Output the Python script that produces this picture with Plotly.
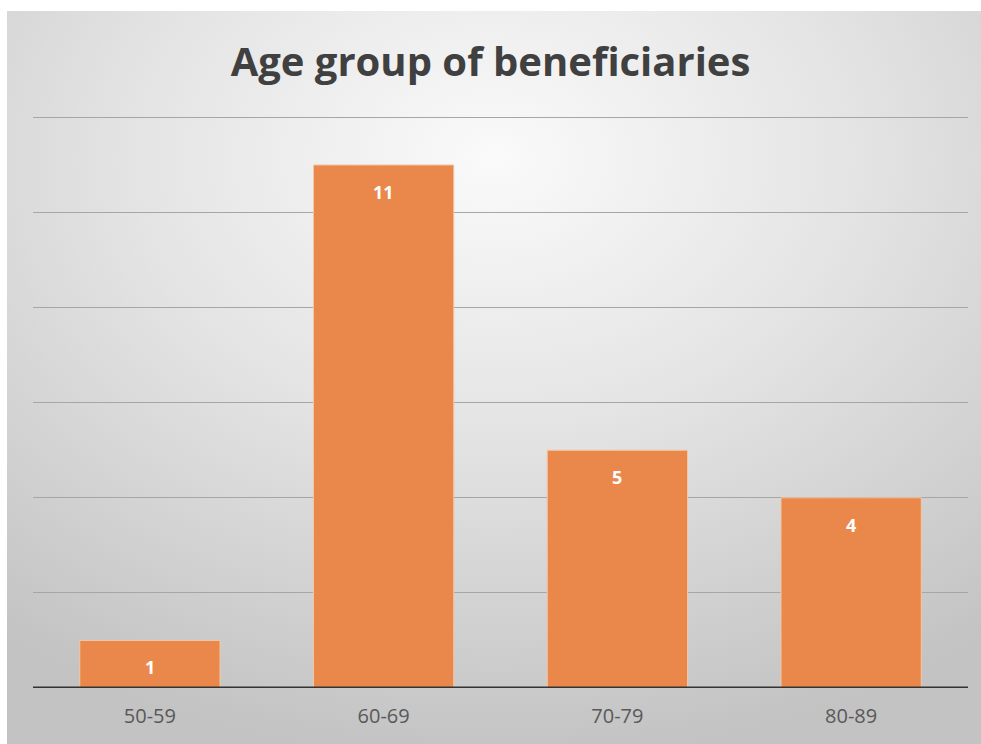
import base64
import plotly.graph_objects as go

categories = ["50-59", "60-69", "70-79", "80-89"]
values = [1, 11, 5, 4]
title_text = "Age group of beneficiaries"

W, H = 981, 744
ml, mr, mt, mb = 33, 13, 116, 56
pw, ph = W - ml - mr, H - mt - mb

svg = """<svg xmlns='http://www.w3.org/2000/svg' width='974' height='733' viewBox='0 0 974 733' preserveAspectRatio='none'>
<defs><radialGradient id='g' cx='50%' cy='20%' r='82%' fx='50%' fy='20%'>
<stop offset='0' stop-color='#fafafa'/><stop offset='0.45' stop-color='#e4e4e4'/><stop offset='1' stop-color='#c3c3c3'/>
</radialGradient></defs><rect width='974' height='733' fill='url(#g)'/></svg>"""
src = "data:image/svg+xml;base64," + base64.b64encode(svg.encode()).decode()

def px_x(p):
    return (p - ml) / pw

def px_y(p):
    return (H - mb - p) / ph

fig = go.Figure()
fig.add_trace(go.Bar(
    x=categories, y=values,
    marker=dict(color="#E9884A", line=dict(color="#f3c7a6", width=1)),
    width=0.6,
    hoverinfo="skip",
))

for c, v in zip(categories, values):
    fig.add_annotation(x=c, y=v, text=f"<b>{v}</b>", showarrow=False,
                       yanchor="middle", yshift=-27,
                       font=dict(family="Open Sans", size=18, color="white"))

fig.add_layout_image(dict(source=src, xref="paper", yref="paper",
                          x=px_x(7), y=px_y(11),
                          sizex=px_x(981) - px_x(7), sizey=px_y(11) - px_y(744),
                          xanchor="left", yanchor="top", sizing="stretch",
                          layer="below"))

fig.update_layout(
    width=W, height=H,
    margin=dict(l=ml, r=mr, t=mt, b=mb),
    paper_bgcolor="white",
    plot_bgcolor="rgba(0,0,0,0)",
    showlegend=False,
    title=dict(text=f"<b>{title_text}</b>", x=0.5, xanchor="center",
               y=1 - 62 / H, yanchor="middle",
               font=dict(family="Open Sans", size=40, color="#404040")),
    xaxis=dict(showgrid=False, showline=False, ticks="",
               ticklabelstandoff=14,
               tickfont=dict(family="Open Sans", size=20, color="#595959")),
    yaxis=dict(range=[0, 12.03], dtick=2, showgrid=True, gridcolor="#a6a6a6",
               gridwidth=1, showticklabels=False, zeroline=False, showline=False),
    bargap=0.4,
)
fig.add_shape(type="line", xref="paper", yref="y", x0=0, x1=1, y0=0, y1=0,
              line=dict(color="#333333", width=3))

fig.write_html("out.html", config={"displayModeBar": False},
               post_script="document.body.style.margin='0';document.body.style.overflow='hidden';")
